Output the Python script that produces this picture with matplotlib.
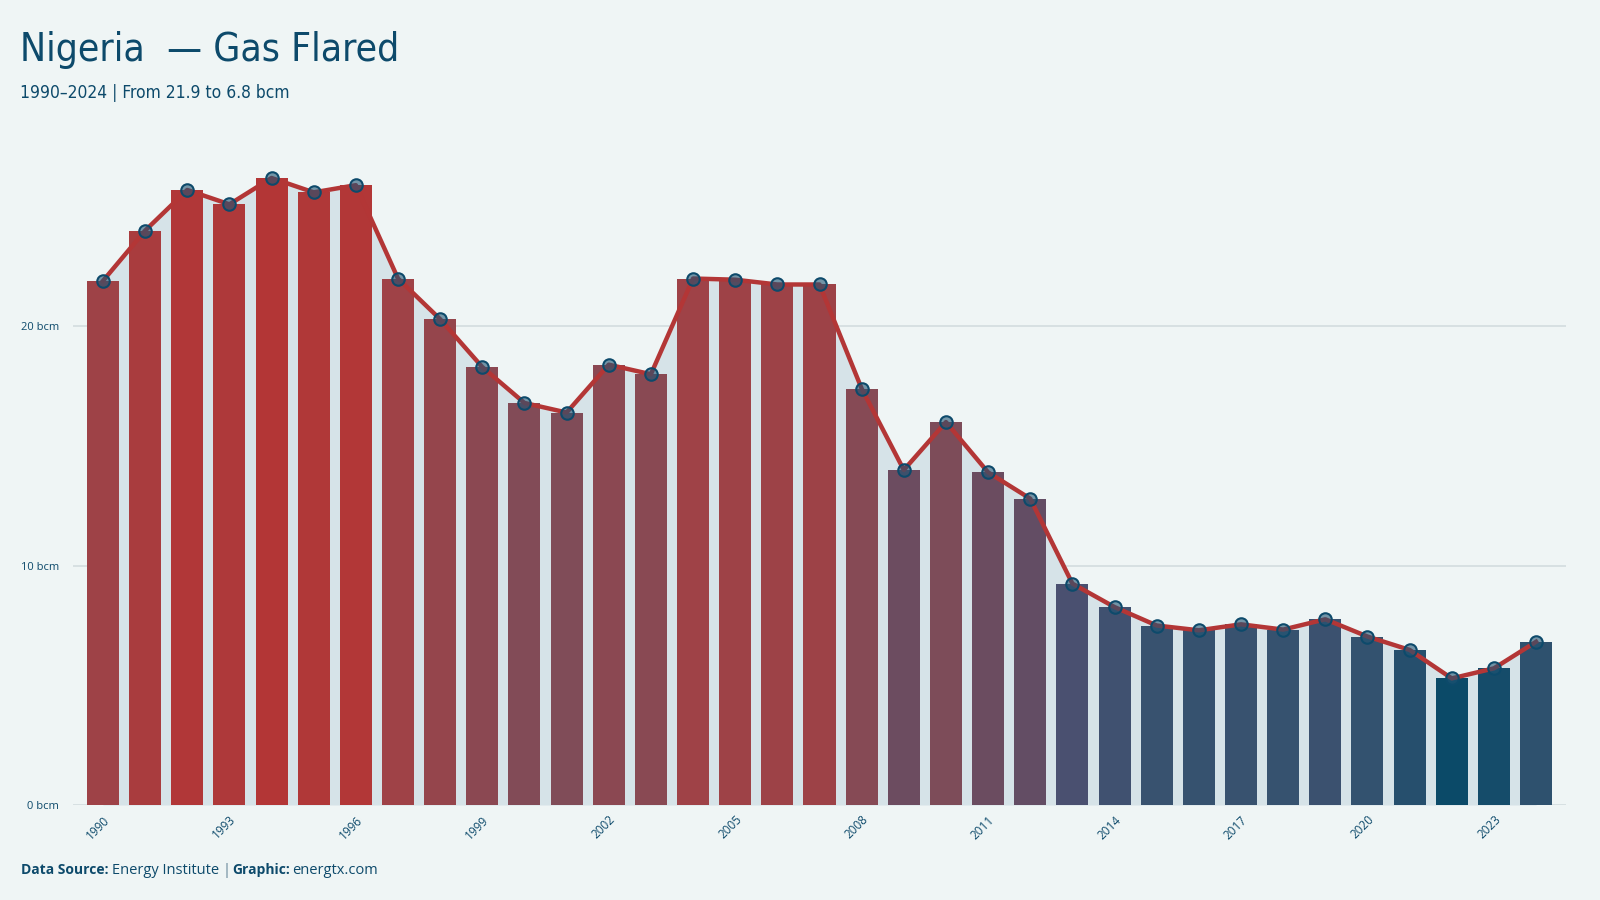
import numpy as np
import matplotlib
matplotlib.use("Agg")
import matplotlib.pyplot as plt
from matplotlib.colors import LinearSegmentedColormap, Normalize

years = list(range(1990, 2025))
flared = [21.9, 24.0, 25.7, 25.1, 26.2, 25.6, 25.9, 22.0, 20.3, 18.3,
          16.8, 16.4, 18.4, 18.0, 22.0, 21.95, 21.75, 21.75, 17.4, 14.0,
          16.0, 13.9, 12.8, 9.25, 8.27, 7.5, 7.3, 7.55, 7.33, 7.76,
          7.04, 6.48, 5.29, 5.71, 6.82]
yticks = [0, 10, 20]

bg = "#eff5f5"
ink = "#0d4a6b"
red = "#b33636"

plt.rcParams['font.family'] = ['DejaVu Sans']

# colour by value: blue (low) -> red (high)
vmin, vmax = min(flared), max(flared)
stops = [(5.29, "#0b4a68"), (7.0, "#33526f"), (9.25, "#4a5070"),
         (14.0, "#6c4c60"), (16.4, "#804c58"), (21.9, "#9e4247"), (26.2, red)]
cmap = LinearSegmentedColormap.from_list(
    "flare", [((v - vmin) / (vmax - vmin), c) for v, c in stops])
norm = Normalize(vmin, vmax)

fig = plt.figure(figsize=(16, 9), dpi=100, facecolor=bg)
ax = fig.add_axes([73 / 1600, 1 - 805 / 900, (1566 - 73) / 1600, 655 / 900])
ax.set_facecolor(bg)

x = np.arange(len(years))
ax.fill_between(x, 0, flared, color="#d6e3e8", zorder=1, lw=0)
ax.bar(x, flared, width=0.76, color=cmap(norm(np.array(flared))), zorder=2)
ax.plot(x, flared, color=red, lw=3.2, zorder=3, solid_joinstyle="round")
ax.plot(x, flared, ls="none", marker="o", ms=9, mfc=(0.12, 0.33, 0.45, 0.6),
        mec=ink, mew=1.5, zorder=4)

ax.set_xlim(-0.71, len(years) - 1 + 0.71)
ax.set_ylim(0, 27.37)
ax.set_yticks(yticks)
ax.set_yticklabels([f"{v} bcm" for v in yticks], family="Open Sans",
                   fontsize=8, color=ink)
ax.yaxis.grid(True, color="#d3dcdf", lw=1.2, zorder=0)
ax.set_axisbelow(True)
ax.tick_params(axis="y", length=0, pad=10)

tick_idx = x[::3]
ax.set_xticks(tick_idx)
ax.set_xticklabels([str(years[i]) for i in tick_idx], rotation=45,
                   ha="right", rotation_mode="anchor", family="Open Sans",
                   fontsize=8.5, color=ink)
ax.tick_params(axis="x", length=0, pad=6)
for s in ax.spines.values():
    s.set_visible(False)

fig.text(20 / 1600, 1 - 50 / 900, "Nigeria  \u2014 Gas Flared", fontsize=28,
         color=ink, va="center", ha="left", fontstretch="condensed",
         family=["DejaVu Sans"])
fig.text(20 / 1600, 1 - 93 / 900, "1990\u20132024 | From 21.9 to 6.8 bcm",
         fontsize=12.5, color=ink, va="center", ha="left",
         fontstretch="condensed", family=["DejaVu Sans"])

# footer
fy = 1 - 870 / 900
fig.text(21 / 1600, fy, "Data Source:", fontsize=10, color=ink,
         weight="bold", family="Open Sans", va="center")
fig.text(112 / 1600, fy, "Energy Institute", fontsize=10.5,
         color=ink, family="Open Sans", va="center")
fig.text(223 / 1600, fy, "|", fontsize=10.5, color="#5d7f92",
         family="Open Sans", va="center")
fig.text(232 / 1600, fy, "Graphic:", fontsize=10, color=ink,
         weight="bold", family="Open Sans", va="center")
fig.text(292 / 1600, fy, "energtx.com", fontsize=10.5, color=ink,
         family="Open Sans", va="center")

fig.savefig("out.png", dpi=100, facecolor=bg)
